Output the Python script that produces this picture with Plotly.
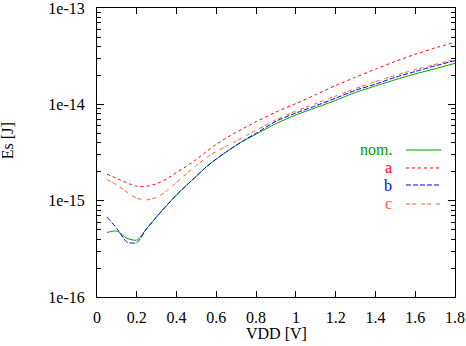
import plotly.graph_objects as go

vdd = [0.05, 0.10, 0.15, 0.20, 0.25, 0.30, 0.35, 0.40, 0.45, 0.50, 0.55, 0.60, 0.65,
       0.70, 0.75, 0.80, 0.90, 1.00, 1.10, 1.20, 1.30, 1.40, 1.50, 1.60, 1.70, 1.80]

es_nom = [4.68e-16, 4.84e-16, 4.07e-16, 3.89e-16, 5.13e-16, 6.81e-16, 8.91e-16, 1.148e-15,
          1.445e-15, 1.80e-15, 2.25e-15, 2.71e-15, 3.21e-15, 3.76e-15, 4.32e-15, 4.90e-15,
          6.31e-15, 7.76e-15, 9.23e-15, 1.10e-14, 1.33e-14, 1.55e-14, 1.80e-14, 2.07e-14,
          2.34e-14, 2.67e-14]
es_a = [1.88e-15, 1.70e-15, 1.53e-15, 1.41e-15, 1.41e-15, 1.50e-15, 1.68e-15, 1.97e-15,
        2.28e-15, 2.69e-15, 3.24e-15, 3.85e-15, 4.47e-15, 5.13e-15, 5.82e-15, 6.61e-15,
        8.32e-15, 1.02e-14, 1.26e-14, 1.57e-14, 1.91e-14, 2.32e-14, 2.79e-14, 3.31e-14,
        3.85e-14, 4.42e-14]
es_b = [6.76e-16, 5.13e-16, 3.72e-16, 3.66e-16, 5.13e-16, 6.81e-16, 8.91e-16, 1.148e-15,
        1.445e-15, 1.80e-15, 2.25e-15, 2.71e-15, 3.21e-15, 3.76e-15, 4.37e-15, 5.01e-15,
        6.68e-15, 8.13e-15, 9.66e-15, 1.16e-14, 1.40e-14, 1.62e-14, 1.91e-14, 2.19e-14,
        2.51e-14, 2.84e-14]
es_c = [1.66e-15, 1.45e-15, 1.23e-15, 1.06e-15, 1.02e-15, 1.08e-15, 1.26e-15, 1.55e-15,
        1.91e-15, 2.32e-15, 2.79e-15, 3.24e-15, 3.67e-15, 4.17e-15, 4.73e-15, 5.37e-15,
        6.92e-15, 8.51e-15, 1.02e-14, 1.22e-14, 1.46e-14, 1.72e-14, 2.00e-14, 2.29e-14,
        2.60e-14, 2.92e-14]

series_names = ["nom.", "a", "b", "c"]
series_data = [es_nom, es_a, es_b, es_c]
colors = ["#00a000", "#ff0000", "#0000ff", "#ff6020"]
dashes = ["solid", "3px,3px", "5px,2px", "4px,2px,4px,5px"]

x_ticks = [0, 0.2, 0.4, 0.6, 0.8, 1.0, 1.2, 1.4, 1.6, 1.8]
x_ticklabels = ["0", "0.2", "0.4", "0.6", "0.8", "1", "1.2", "1.4", "1.6", "1.8"]
y_ticks = [1e-16, 1e-15, 1e-14, 1e-13]
y_ticklabels = ["1e-16", "1e-15", "1e-14", "1e-13"]
y_minor = [m * d for d in [1e-16, 1e-15, 1e-14] for m in range(2, 10)]

FONT = "Liberation Serif"

fig = go.Figure()
for name, ys, col, dsh in zip(series_names, series_data, colors, dashes):
    fig.add_trace(go.Scatter(x=vdd, y=ys, mode="lines", name=name,
                             line=dict(color=col, width=1, dash=dsh,
                                       shape="spline", smoothing=0.6),
                             showlegend=False, hoverinfo="skip"))

# manual legend: text then line sample (gnuplot style)
leg_y = [0.5087, 0.4464, 0.3875, 0.3218]
for name, col, dsh, yy in zip(series_names, colors, dashes, leg_y):
    fig.add_annotation(x=0.8296, y=yy, xref="paper", yref="paper", text=name,
                       showarrow=False, xanchor="right", yanchor="middle",
                       font=dict(family=FONT, size=16, color=col))
    fig.add_shape(type="line", xref="paper", yref="paper", x0=0.863, x1=0.961,
                  y0=yy, y1=yy, line=dict(color=col, width=1, dash=dsh))

fig.add_annotation(x=0.5, y=-0.125, xref="paper", yref="paper", text="VDD [V]",
                   showarrow=False, xanchor="center", yanchor="middle",
                   font=dict(family=FONT, size=16, color="black"))
fig.add_annotation(x=-0.248, y=0.54, xref="paper", yref="paper", text="Es [J]",
                   showarrow=False, xanchor="center", yanchor="middle", textangle=-90,
                   font=dict(family=FONT, size=16, color="black"))

fig.update_xaxes(range=[0, 1.8], tickvals=x_ticks, ticktext=x_ticklabels,
                 ticks="inside", ticklen=6, tickwidth=1, tickcolor="black",
                 showline=True, linecolor="black", linewidth=1, mirror="ticks",
                 showgrid=False, zeroline=False, ticklabelstandoff=6, automargin=False,
                 ticklabeloverflow="allow",
                 tickfont=dict(family=FONT, size=16, color="black"))
fig.update_yaxes(type="log", range=[-16, -13], tickvals=y_ticks, ticktext=y_ticklabels,
                 ticks="inside", ticklen=7, tickwidth=1, tickcolor="black",
                 showline=True, linecolor="black", linewidth=1, mirror="ticks",
                 showgrid=False, zeroline=False, ticklabelstandoff=8, automargin=False,
                 ticklabeloverflow="allow",
                 minor=dict(tickvals=y_minor, ticks="inside", ticklen=4,
                            tickcolor="black", tickwidth=1, showgrid=False),
                 tickfont=dict(family=FONT, size=16, color="black"))

fig.update_layout(width=466, height=346, margin=dict(l=97, r=11, t=8, b=49),
                  plot_bgcolor="white", paper_bgcolor="white", hovermode=False)

fig.write_html("out.html", config={"displayModeBar": False, "staticPlot": True},
               post_script="document.body.style.margin='0';document.body.style.overflow='hidden';")
